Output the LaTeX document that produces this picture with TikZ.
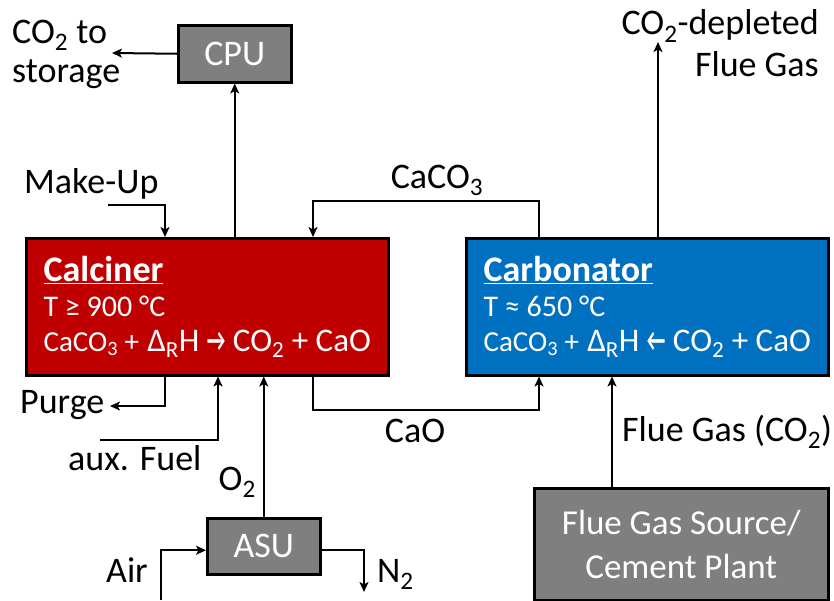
\documentclass[tikz,border=0pt]{standalone}
\usepackage{fontspec}
\setmainfont{Carlito}
\usepackage{tikz}
\usetikzlibrary{arrows.meta,positioning}
\definecolor{calcred}{HTML}{C00000}
\definecolor{carbblue}{HTML}{0070C0}
\definecolor{unitgray}{HTML}{7F7F7F}
\newcommand{\sub}[1]{\textsubscript{#1}}
\newcommand{\smallsize}{\fontsize{29}{35}\selectfont}
\newcommand{\eqarrow}[1]{\scalebox{0.62}[1]{\textbf{#1}}}

\begin{document}
\begin{tikzpicture}[x=1pt, y=-1pt, >={Stealth[length=10pt,width=9pt,inset=2.5pt]},
  every node/.style={font=\fontsize{36}{39}\selectfont, inner sep=0pt},
  flow/.style={line width=2pt},
  unit/.style={draw, line width=2.5pt, fill=unitgray, text=white, anchor=north west},
  reactor/.style={draw, line width=2.5pt, text=white, anchor=north west, minimum width=362, minimum height=137, align=left, font=\fontsize{36}{35}\selectfont}]
\useasboundingbox (0,0) rectangle (834,600);
% units
\node[reactor, fill=calcred] (calc) at (25,237) {\underline{\textbf{Calciner}}\\
  {\fontsize{30}{35}\selectfont T ≥ 900 °C}\\
  {\smallsize CaCO\sub{3} +} {\fontsize{33}{35}\selectfont Δ\sub{R}H \eqarrow{→} CO\sub{2} + CaO}};
\node[reactor, fill=carbblue] (carb) at (465,237) {\underline{\textbf{Carbonator}}\\
  {\fontsize{30}{35}\selectfont T ≈ 650 °C}\\
  {\smallsize CaCO\sub{3} +} {\fontsize{33}{35}\selectfont Δ\sub{R}H \eqarrow{←} CO\sub{2} + CaO}};
\node[unit, minimum width=113, minimum height=57] (cpu) at (177,24) {CPU};
\node[unit, minimum width=113, minimum height=56] (asu) at (206,517) {ASU};
\node[unit, minimum width=294, minimum height=112, align=center, font=\fontsize{35}{44}\selectfont] (fgs) at (533,487) {Flue Gas Source/\\Cement Plant};
% stream labels
\node[anchor=west, align=left] (store) at (12,54) {CO\sub{2} to\\storage};
\node[anchor=east, align=right, font=\fontsize{36}{42}\selectfont] (depl) at (819,43) {CO\sub{2}-depleted\\Flue Gas};
\node[anchor=base west] (mkup) at (24,193) {Make-Up};
\node[anchor=base] (caco3) at (437,188) {CaCO\sub{3}};
\node[anchor=base west] (purge) at (20,413) {Purge};
\node[anchor=base west] (fuel) at (68,470) {aux. Fuel};
\node[anchor=base east] (otwo) at (256,490) {O\sub{2}};
\node[anchor=base] (cao) at (415,442) {CaO};
\node[anchor=base west] (fgin) at (622,441) {Flue Gas (CO\sub{2})};
\node[anchor=base east] (air) at (148,582) {Air};
\node[anchor=base west] (ntwo) at (377,582) {N\sub{2}};
% free ends
\coordinate (mkin) at (108,205);
\coordinate (storeend) at (112,53);
\coordinate (fluetop) at (658,42);
\coordinate (purgeend) at (110,406);
\coordinate (fuelin) at (100,440);
\coordinate (airin) at (161,600);
\coordinate (n2end) at (364,592);
\coordinate (fgout) at ([xshift=79]fgs.north west);
% streams
\draw[flow,->] (mkin) -| ([xshift=140]calc.north west);
\draw[flow,->] (cpu.south |- calc.north) -- (cpu.south);
\draw[flow,->] (cpu.west) -- (storeend);
\draw[flow,->] ([xshift=74]carb.north west) -- ++(0,-36) -| ([xshift=288]calc.north west);
\draw[flow,->] (fluetop |- carb.north) -- (fluetop);
\draw[flow,->] ([xshift=140]calc.south west) |- (purgeend);
\draw[flow,->] (fuelin) -| ([xshift=193]calc.south west);
\draw[flow,->] (asu.north) -- (asu.north |- calc.south);
\draw[flow,->] (airin) |- ([yshift=-4]asu.west);
\draw[flow,->] ([yshift=-4]asu.east) -| (n2end);
\draw[flow,->] ([xshift=288]calc.south west) -- ++(0,33) -| ([xshift=74]carb.south west);
\draw[flow,->] (fgout) -- (fgout |- carb.south);
\end{tikzpicture}
\end{document}
